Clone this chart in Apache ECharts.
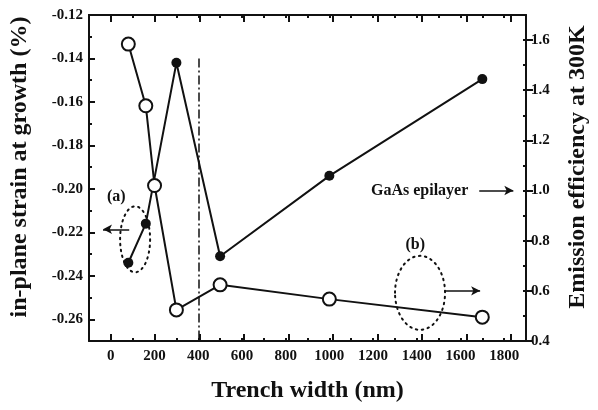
<!DOCTYPE html>
<html>
<head>
<meta charset="utf-8">
<script src="https://cdn.jsdelivr.net/npm/echarts@6/dist/echarts.min.js"></script>
<style>
  html, body { margin: 0; padding: 0; background: #fff; }
  #chart { width: 598px; height: 410px; }
</style>
</head>
<body>
<div id="chart"></div>
<script>
  // trench widths (nm)
  let widths = [80, 160, 200, 300, 500, 1000, 1700];
  let strainWidths = [80, 160, 300, 500, 1000, 1700];
  // in-plane strain (%), left axis, filled dots
  let strain = [-0.234, -0.216, -0.142, -0.231, -0.194, -0.1495];
  // emission efficiency at 300K, right axis, open dots
  let efficiency = [1.584, 1.338, 1.02, 0.524, 0.624, 0.567, 0.495];

  let xTicks = [0, 200, 400, 600, 800, 1000, 1200, 1400, 1600, 1800];
  let strainTicks = [-0.26, -0.24, -0.22, -0.20, -0.18, -0.16, -0.14, -0.12];
  let effTicks = [0.4, 0.6, 0.8, 1.0, 1.2, 1.4, 1.6];

  let serif = '"Liberation Serif", "DejaVu Serif", serif';
  let black = '#111';

  let chart = echarts.init(document.getElementById('chart'));

  let gridBox = { left: 88, right: 65, top: 15, bottom: 69 };
  let lineAxis = { show: true, onZero: false, lineStyle: { color: black, width: 2 } };
  let noLine = { show: false, onZero: false };
  let shortTick = { show: true, inside: true, length: 3, lineStyle: { color: black, width: 2 } };
  let longTick = (vals) => ({ show: true, inside: true, length: 7, customValues: vals, lineStyle: { color: black, width: 2 } });
  let labelFont = { fontFamily: serif, fontWeight: 'bold', fontSize: 15, color: black };
  let nameFont = { fontFamily: serif, fontWeight: 'bold', fontSize: 24, color: black };

  let xBase = { type: 'value', min: -100, max: 1900, interval: 100, splitLine: { show: false } };
  let yStrain = { type: 'value', min: -0.27, max: -0.12, interval: 0.01, splitLine: { show: false } };
  let yEff = { type: 'value', min: 0.4, max: 1.7, interval: 0.1, splitLine: { show: false } };

  // grid 1 sits exactly over grid 0 and only carries the long major ticks
  let majorX = (pos) => Object.assign({}, xBase, {
    gridIndex: 1, position: pos, axisLine: noLine, axisTick: longTick(xTicks), axisLabel: { show: false }
  });
  let majorY = (base, pos, vals) => Object.assign({}, base, {
    gridIndex: 1, position: pos, axisLine: noLine, axisTick: longTick(vals), axisLabel: { show: false }
  });

  let option = {
    animation: false,
    grid: [gridBox, gridBox],
    xAxis: [
      Object.assign({}, xBase, {
        gridIndex: 0,
        position: 'bottom',
        axisLine: lineAxis,
        axisTick: shortTick,
        axisLabel: Object.assign({ customValues: xTicks, margin: 8, formatter: (v) => String(v) }, labelFont),
        name: 'Trench width (nm)',
        nameLocation: 'middle',
        nameGap: 38,
        nameTextStyle: nameFont
      }),
      Object.assign({}, xBase, {
        gridIndex: 0,
        position: 'top',
        axisLine: lineAxis,
        axisTick: shortTick,
        axisLabel: { show: false }
      }),
      majorX('bottom'),
      majorX('top')
    ],
    yAxis: [
      Object.assign({}, yStrain, {
        gridIndex: 0,
        position: 'left',
        axisLine: lineAxis,
        axisTick: shortTick,
        axisLabel: Object.assign({
          customValues: strainTicks,
          margin: 6,
          formatter: (v) => v.toFixed(2)
        }, labelFont),
        name: 'in-plane strain at growth (%)',
        nameLocation: 'middle',
        nameRotate: 90,
        nameGap: 57,
        nameTextStyle: Object.assign({ padding: [0, 0, 0, 22] }, nameFont)
      }),
      Object.assign({}, yEff, {
        gridIndex: 0,
        position: 'right',
        axisLine: lineAxis,
        axisTick: shortTick,
        axisLabel: Object.assign({
          customValues: effTicks,
          margin: 5,
          formatter: (v) => v.toFixed(1)
        }, labelFont),
        name: 'Emission efficiency at 300K',
        nameLocation: 'middle',
        nameRotate: 90,
        nameGap: 40,
        nameTextStyle: Object.assign({ padding: [0, 0, 0, 22] }, nameFont)
      }),
      majorY(yStrain, 'left', strainTicks),
      majorY(yEff, 'right', effTicks)
    ],
    series: [
      {
        name: 'strain',
        type: 'line',
        xAxisIndex: 0,
        yAxisIndex: 0,
        data: strainWidths.map((w, i) => [w, strain[i]]),
        symbol: 'circle',
        symbolSize: 10,
        lineStyle: { color: black, width: 2 },
        itemStyle: { color: black, borderColor: black, borderWidth: 0 },
        z: 3,
        markLine: {
          silent: true,
          symbol: ['none', 'arrow'],
          symbolSize: [7, 9],
          label: { show: false },
          data: [
            // dash-dot marker at 400 nm
            [
              { coord: [400, -0.14], symbol: 'none', lineStyle: { type: [9, 3, 2, 3], width: 1.5, color: black } },
              { coord: [400, -0.27], symbol: 'none' }
            ],
            // (a) arrow pointing to the left axis
            [
              { coord: [84, -0.2186], lineStyle: { type: 'solid', width: 1.5, color: black } },
              { coord: [-36, -0.2186] }
            ]
          ]
        }
      },
      {
        name: 'efficiency',
        type: 'line',
        xAxisIndex: 0,
        yAxisIndex: 1,
        data: widths.map((w, i) => [w, efficiency[i]]),
        symbol: 'circle',
        symbolSize: 13,
        lineStyle: { color: black, width: 2 },
        itemStyle: { color: '#fff', borderColor: black, borderWidth: 2 },
        z: 4,
        markLine: {
          silent: true,
          symbol: ['none', 'arrow'],
          symbolSize: [7, 9],
          label: { show: false },
          lineStyle: { type: 'solid', width: 1.5, color: black },
          data: [
            [{ coord: [1528, 0.6] }, { coord: [1690, 0.6] }],
            [{ coord: [1686, 1.0] }, { coord: [1842, 1.0] }]
          ]
        }
      }
    ]
  };

  chart.setOption(option);

  // annotation labels and dotted ellipses, placed in data space
  let toPx = (yIdx, pt) => chart.convertToPixel({ xAxisIndex: 0, yAxisIndex: yIdx }, pt);
  let annFont = { fontFamily: serif, fontWeight: 'bold', fontSize: 16, fill: black };

  let pa = toPx(0, [25, -0.2038]);
  let pb = toPx(1, [1393, 0.783]);
  let pg = toPx(1, [1636, 1.0]);
  let ea = toPx(0, [111, -0.2232]);
  let eb = toPx(1, [1415, 0.592]);

  let dotted = { fill: 'none', stroke: black, lineWidth: 2, lineDash: [1.5, 4.5], lineCap: 'round' };

  chart.setOption({
    graphic: [
      { type: 'text', x: pa[0], y: pa[1], style: Object.assign({ text: '(a)', align: 'center', verticalAlign: 'middle' }, annFont) },
      { type: 'text', x: pb[0], y: pb[1], style: Object.assign({ text: '(b)', align: 'center', verticalAlign: 'middle' }, annFont) },
      { type: 'text', x: pg[0], y: pg[1], style: Object.assign({ text: 'GaAs epilayer', align: 'right', verticalAlign: 'middle' }, annFont) },
      { type: 'ellipse', shape: { cx: ea[0], cy: ea[1], rx: 15, ry: 33 }, style: dotted, z: 10 },
      { type: 'ellipse', shape: { cx: eb[0], cy: eb[1], rx: 25, ry: 37 }, style: dotted, z: 10 }
    ]
  });
</script>
</body>
</html>
